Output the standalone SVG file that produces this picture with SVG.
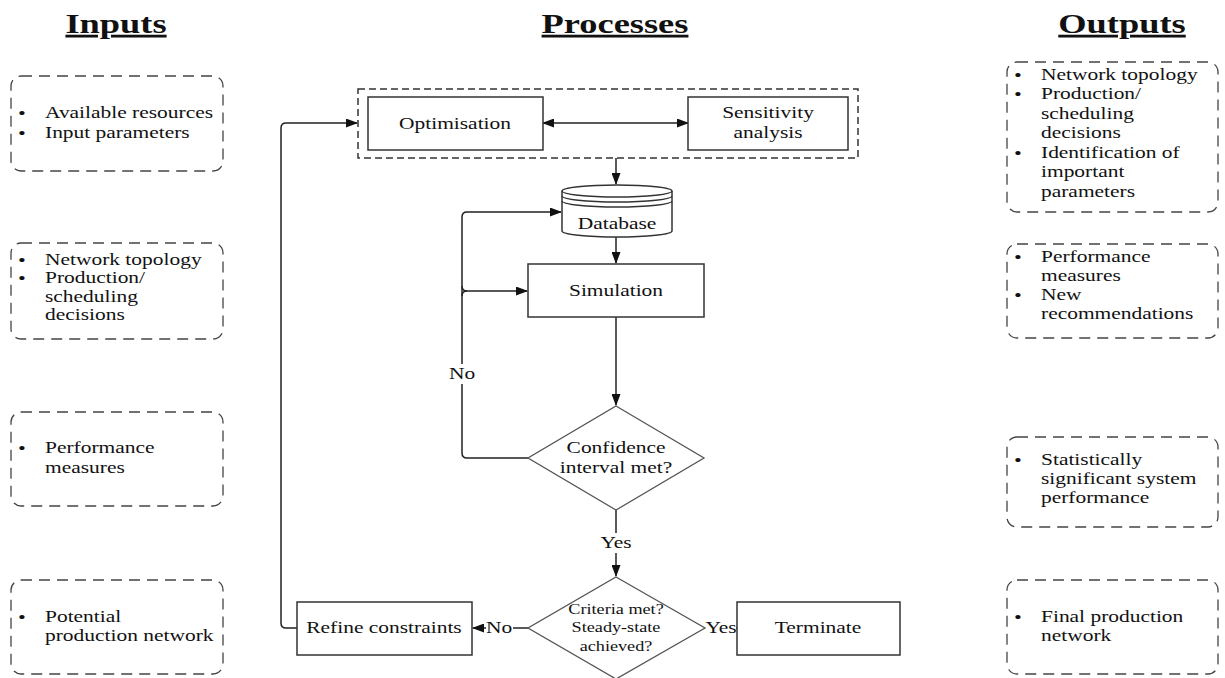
<svg xmlns="http://www.w3.org/2000/svg" width="1225" height="678" viewBox="0 0 1225 678">
<style>
.t{font-family:"Liberation Serif","Times New Roman",serif;font-size:16.5px;fill:#111}
.b{font-family:"Liberation Serif","Times New Roman",serif;font-size:15px;font-weight:bold;fill:#111;text-anchor:middle}
.s{font-family:"Liberation Serif","Times New Roman",serif;font-size:14px;fill:#111}
.h{font-family:"Liberation Serif","Times New Roman",serif;font-size:28px;font-weight:bold;fill:#111;text-decoration:underline}
.m{text-anchor:middle}
.dbox{fill:none;stroke:#444;stroke-width:1.3;stroke-dasharray:11 7}
.cont{fill:none;stroke:#333;stroke-width:1.5;stroke-dasharray:7 4}
.box{fill:#fff;stroke:#333;stroke-width:1.5}
.dia{fill:#fff;stroke:#555;stroke-width:1.3}
.edge{fill:none;stroke:#222;stroke-width:1.5}
.bg{fill:#fff}
</style>
<defs>
<marker id="ah" markerUnits="userSpaceOnUse" markerWidth="12" markerHeight="9" refX="11" refY="4.5" orient="auto-start-reverse">
<path d="M0,0 L12,4.5 L0,9 z" fill="#111"/>
</marker>
</defs>

<g id="titles">
<g transform="translate(116 0) scale(1.3 1)"><text class="h m" x="0" y="33">Inputs</text></g>
<g transform="translate(615 0) scale(1.3 1)"><text class="h m" x="0" y="33">Processes</text></g>
<g transform="translate(1122 0) scale(1.3 1)"><text class="h m" x="0" y="33">Outputs</text></g>
</g>

<g id="input1">
<rect class="dbox" x="11" y="76" width="212" height="95" rx="10"/>
<g transform="translate(22 0) scale(1.3 1)"><text class="b" x="0" y="118">•</text><text class="b" x="0" y="138">•</text></g>
<g transform="translate(45 0) scale(1.3 1)"><text class="t" x="0" y="118">Available resources</text><text class="t" x="0" y="138">Input parameters</text></g>
</g>
<g id="input2">
<rect class="dbox" x="11" y="243" width="212" height="96" rx="10"/>
<g transform="translate(22 0) scale(1.3 1)"><text class="b" x="0" y="265">•</text><text class="b" x="0" y="283">•</text></g>
<g transform="translate(45 0) scale(1.3 1)"><text class="t" x="0" y="265">Network topology</text><text class="t" x="0" y="283">Production/</text><text class="t" x="0" y="302">scheduling</text><text class="t" x="0" y="320">decisions</text></g>
</g>
<g id="input3">
<rect class="dbox" x="11" y="412" width="212" height="94" rx="10"/>
<g transform="translate(22 0) scale(1.3 1)"><text class="b" x="0" y="453">•</text></g>
<g transform="translate(45 0) scale(1.3 1)"><text class="t" x="0" y="453">Performance</text><text class="t" x="0" y="473">measures</text></g>
</g>
<g id="input4">
<rect class="dbox" x="11" y="580" width="212" height="94" rx="10"/>
<g transform="translate(22 0) scale(1.3 1)"><text class="b" x="0" y="622">•</text></g>
<g transform="translate(45 0) scale(1.3 1)"><text class="t" x="0" y="622">Potential</text><text class="t" x="0" y="641">production network</text></g>
</g>

<g id="output1">
<rect class="dbox" x="1007" y="62" width="211" height="150" rx="10"/>
<g transform="translate(1018 0) scale(1.3 1)"><text class="b" x="0" y="80">•</text><text class="b" x="0" y="99.5">•</text><text class="b" x="0" y="158">•</text></g>
<g transform="translate(1041 0) scale(1.3 1)"><text class="t" x="0" y="80">Network topology</text><text class="t" x="0" y="99.5">Production/</text><text class="t" x="0" y="119">scheduling</text><text class="t" x="0" y="138.5">decisions</text><text class="t" x="0" y="158">Identification of</text><text class="t" x="0" y="177.5">important</text><text class="t" x="0" y="197">parameters</text></g>
</g>
<g id="output2">
<rect class="dbox" x="1007" y="244" width="211" height="94" rx="10"/>
<g transform="translate(1018 0) scale(1.3 1)"><text class="b" x="0" y="262">•</text><text class="b" x="0" y="300">•</text></g>
<g transform="translate(1041 0) scale(1.3 1)"><text class="t" x="0" y="262">Performance</text><text class="t" x="0" y="281">measures</text><text class="t" x="0" y="300">New</text><text class="t" x="0" y="319">recommendations</text></g>
</g>
<g id="output3">
<rect class="dbox" x="1007" y="437" width="211" height="90" rx="10"/>
<g transform="translate(1018 0) scale(1.3 1)"><text class="b" x="0" y="465">•</text></g>
<g transform="translate(1041 0) scale(1.3 1)"><text class="t" x="0" y="465">Statistically</text><text class="t" x="0" y="484">significant system</text><text class="t" x="0" y="503">performance</text></g>
</g>
<g id="output4">
<rect class="dbox" x="1007" y="580" width="211" height="94" rx="10"/>
<g transform="translate(1018 0) scale(1.3 1)"><text class="b" x="0" y="622">•</text></g>
<g transform="translate(1041 0) scale(1.3 1)"><text class="t" x="0" y="622">Final production</text><text class="t" x="0" y="641">network</text></g>
</g>

<g id="connectors">
<path class="edge" d="M616 158 L616 184" marker-end="url(#ah)"/>
<path class="edge" d="M616 237 L616 263" marker-end="url(#ah)"/>
<path class="edge" d="M616 317 L616 405" marker-end="url(#ah)"/>
<path class="edge" d="M616 510 L616 576" marker-end="url(#ah)"/>
<path class="edge" d="M543 123 L688 123" marker-start="url(#ah)" marker-end="url(#ah)"/>
<path class="edge" d="M528 458 L467 458 Q462 458 462 453 L462 217 Q462 212 467 212 L561 212" marker-end="url(#ah)"/>
<path class="edge" d="M462 286 Q462 291 467 291 L527 291" marker-end="url(#ah)"/>
<path class="edge" d="M462 296 Q462 291 467 291"/>
<path class="edge" d="M528 628 L473 628" marker-end="url(#ah)"/>
<path class="edge" d="M705 628 L737 628"/>
<path class="edge" d="M297 628 L286 628 Q281 628 281 623 L281 128 Q281 123 286 123 L357 123" marker-end="url(#ah)"/>
<rect class="bg" x="449" y="364" width="27" height="20"/>
<g transform="translate(462 0) scale(1.3 1)"><text class="t m" x="0" y="379">No</text></g>
<rect class="bg" x="599" y="533" width="34" height="20"/>
<g transform="translate(616 0) scale(1.3 1)"><text class="t m" x="0" y="548">Yes</text></g>
<rect class="bg" x="486" y="619" width="27" height="18"/>
<g transform="translate(499 0) scale(1.3 1)"><text class="t m" x="0" y="633">No</text></g>
<rect class="bg" x="705" y="619" width="31" height="18"/>
<g transform="translate(721 0) scale(1.3 1)"><text class="t m" x="0" y="633">Yes</text></g>
</g>

<g id="processes">
<rect class="cont" x="358" y="89" width="500" height="69"/>
</g>
<g id="optimisation">
<rect class="box" x="368" y="97" width="175" height="53"/>
<g transform="translate(455 0) scale(1.3 1)"><text class="t m" x="0" y="129">Optimisation</text></g>
</g>
<g id="sensitivity">
<rect class="box" x="688" y="97" width="160" height="53"/>
<g transform="translate(768 0) scale(1.3 1)"><text class="t m" x="0" y="118">Sensitivity</text><text class="t m" x="0" y="138">analysis</text></g>
</g>
<g id="database">
<path class="box" d="M562 191 A55 6 0 0 1 672 191 L672 231 A55 6 0 0 1 562 231 Z"/>
<path class="edge" style="stroke:#333;stroke-width:1.3" d="M562 191 A55 6 0 0 0 672 191 M562 196 A55 6 0 0 0 672 196 M562 201 A55 6 0 0 0 672 201"/>
<g transform="translate(617 0) scale(1.3 1)"><text class="t m" x="0" y="229">Database</text></g>
</g>
<g id="simulation">
<rect class="box" x="528" y="264" width="176" height="53"/>
<g transform="translate(616 0) scale(1.3 1)"><text class="t m" x="0" y="296">Simulation</text></g>
</g>
<g id="confidence">
<polygon class="dia" points="616,406 704,458 616,510 528,458"/>
<g transform="translate(616 0) scale(1.3 1)"><text class="t m" x="0" y="453">Confidence</text><text class="t m" x="0" y="473">interval met?</text></g>
</g>
<g id="criteria">
<polygon class="dia" points="616,577 705,628 616,679 528,628"/>
<g transform="translate(616 0) scale(1.3 1)"><text class="s m" x="0" y="614">Criteria met?</text><text class="s m" x="0" y="632">Steady-state</text><text class="s m" x="0" y="651">achieved?</text></g>
</g>
<g id="refine">
<rect class="box" x="297" y="602" width="175" height="53"/>
<g transform="translate(384 0) scale(1.3 1)"><text class="t m" x="0" y="633">Refine constraints</text></g>
</g>
<g id="terminate">
<rect class="box" x="737" y="602" width="163" height="53"/>
<g transform="translate(818 0) scale(1.3 1)"><text class="t m" x="0" y="633">Terminate</text></g>
</g>
</svg>
